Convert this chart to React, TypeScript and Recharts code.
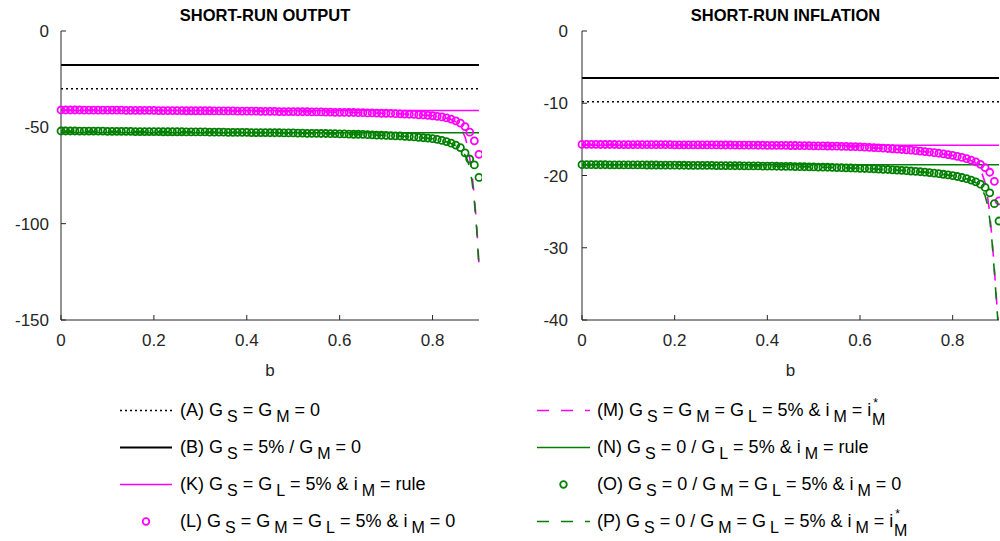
import { LineChart, Line, XAxis, YAxis } from "recharts"

// Two MATLAB-style panels (output / inflation vs b) + shared legend underneath.

const FONT = '"Liberation Sans", Arial, Helvetica, sans-serif'
const AXIS = "#262626"
const MAGENTA = "#ff00ff"
const GREEN = "#008000"

// ── Data ──────────────────────────────────────────────────────────────────────

const B_GRID = [
  0, 0.01, 0.02, 0.03, 0.04, 0.05, 0.06, 0.07, 0.08, 0.09,
  0.1, 0.11, 0.12, 0.13, 0.14, 0.15, 0.16, 0.17, 0.18, 0.19,
  0.2, 0.21, 0.22, 0.23, 0.24, 0.25, 0.26, 0.27, 0.28, 0.29,
  0.3, 0.31, 0.32, 0.33, 0.34, 0.35, 0.36, 0.37, 0.38, 0.39,
  0.4, 0.41, 0.42, 0.43, 0.44, 0.45, 0.46, 0.47, 0.48, 0.49,
  0.5, 0.51, 0.52, 0.53, 0.54, 0.55, 0.56, 0.57, 0.58, 0.59,
  0.6, 0.61, 0.62, 0.63, 0.64, 0.65, 0.66, 0.67, 0.68, 0.69,
  0.7, 0.71, 0.72, 0.73, 0.74, 0.75, 0.76, 0.77, 0.78, 0.79,
  0.8, 0.81, 0.82, 0.83, 0.84, 0.85, 0.86, 0.87, 0.88, 0.89,
  0.9,
]

// b values for the dashed (i_M = i*_M) curves, denser near the kink
const B_TAIL = [0, 0.1, 0.2, 0.3, 0.4, 0.5, 0.6, 0.7, 0.75, 0.8, 0.82, 0.84, 0.85, 0.86, 0.87, 0.875, 0.88, 0.885, 0.89, 0.895, 0.9]

// short-run output
const OUT_A = -30
const OUT_B = -17.6
const OUT_K = -41.2
const OUT_N = -52.8

const OUT_L = [
  -41.0, -41.0, -41.0, -41.0, -41.0, -41.1, -41.1, -41.1, -41.1, -41.1,
  -41.1, -41.1, -41.1, -41.1, -41.2, -41.2, -41.2, -41.2, -41.2, -41.2,
  -41.2, -41.3, -41.3, -41.3, -41.3, -41.3, -41.3, -41.4, -41.4, -41.4,
  -41.4, -41.4, -41.4, -41.5, -41.5, -41.5, -41.5, -41.5, -41.6, -41.6,
  -41.6, -41.6, -41.6, -41.7, -41.7, -41.7, -41.7, -41.8, -41.8, -41.8,
  -41.8, -41.9, -41.9, -41.9, -42.0, -42.0, -42.0, -42.1, -42.1, -42.2,
  -42.2, -42.2, -42.3, -42.3, -42.4, -42.4, -42.5, -42.5, -42.6, -42.7,
  -42.7, -42.8, -42.9, -43.0, -43.1, -43.2, -43.3, -43.5, -43.6, -43.8,
  -44.0, -44.3, -44.6, -45.1, -45.7, -46.6, -47.8, -49.6, -52.5, -57.0,
  -64.0,
]

const OUT_O = [
  -51.9, -51.9, -51.9, -51.9, -52.0, -52.0, -52.0, -52.0, -52.0, -52.0,
  -52.1, -52.1, -52.1, -52.1, -52.1, -52.1, -52.2, -52.2, -52.2, -52.2,
  -52.2, -52.2, -52.3, -52.3, -52.3, -52.3, -52.3, -52.4, -52.4, -52.4,
  -52.4, -52.4, -52.5, -52.5, -52.5, -52.5, -52.6, -52.6, -52.6, -52.6,
  -52.6, -52.7, -52.7, -52.7, -52.7, -52.8, -52.8, -52.8, -52.9, -52.9,
  -52.9, -53.0, -53.0, -53.1, -53.1, -53.1, -53.2, -53.2, -53.3, -53.3,
  -53.4, -53.4, -53.5, -53.6, -53.6, -53.7, -53.8, -53.9, -54.0, -54.1,
  -54.2, -54.3, -54.4, -54.5, -54.7, -54.8, -55.0, -55.2, -55.4, -55.6,
  -55.9, -56.3, -56.8, -57.4, -58.2, -59.2, -60.5, -63.3, -66.5, -69.5,
  -76.0,
]

const OUT_M = [-41.0, -41.1, -41.2, -41.4, -41.6, -41.8, -42.2, -42.7, -43.2, -44.0, -44.6, -45.9, -47.2, -49.8, -55.0, -59.5, -66.0, -74.5, -86.0, -101.0, -121.0]
const OUT_P = [-51.9, -52.1, -52.2, -52.4, -52.6, -52.9, -53.4, -54.2, -54.8, -55.9, -56.8, -58.4, -59.6, -61.5, -64.5, -67.0, -71.0, -78.0, -88.5, -103.0, -123.0]

// short-run inflation
const INF_A = -9.8
const INF_B = -6.5
const INF_K = -15.8
const INF_N = -18.5

const INF_L = [
  -15.70, -15.70, -15.70, -15.70, -15.71, -15.71, -15.71, -15.71, -15.72, -15.72,
  -15.72, -15.72, -15.73, -15.73, -15.73, -15.73, -15.74, -15.74, -15.74, -15.74,
  -15.75, -15.75, -15.75, -15.75, -15.76, -15.76, -15.76, -15.77, -15.77, -15.77,
  -15.78, -15.78, -15.78, -15.79, -15.79, -15.80, -15.80, -15.80, -15.81, -15.81,
  -15.82, -15.82, -15.83, -15.83, -15.84, -15.85, -15.85, -15.86, -15.87, -15.88,
  -15.89, -15.90, -15.91, -15.92, -15.93, -15.94, -15.96, -15.97, -15.99, -16.00,
  -16.05, -16.08, -16.11, -16.14, -16.18, -16.22, -16.26, -16.30, -16.35, -16.40,
  -16.45, -16.50, -16.56, -16.62, -16.69, -16.76, -16.84, -16.92, -17.01, -17.11,
  -17.22, -17.35, -17.50, -17.67, -17.88, -18.12, -18.45, -18.90, -19.55, -20.80,
  -23.5,
]

const INF_O = [
  -18.50, -18.50, -18.50, -18.51, -18.51, -18.51, -18.52, -18.52, -18.52, -18.53,
  -18.53, -18.53, -18.54, -18.54, -18.55, -18.55, -18.55, -18.56, -18.56, -18.57,
  -18.57, -18.58, -18.58, -18.59, -18.59, -18.60, -18.60, -18.61, -18.61, -18.62,
  -18.63, -18.63, -18.64, -18.65, -18.65, -18.66, -18.67, -18.68, -18.68, -18.69,
  -18.70, -18.71, -18.72, -18.73, -18.74, -18.75, -18.76, -18.78, -18.79, -18.80,
  -18.82, -18.83, -18.85, -18.86, -18.88, -18.90, -18.92, -18.94, -18.96, -18.98,
  -19.00, -19.03, -19.05, -19.08, -19.11, -19.14, -19.17, -19.21, -19.25, -19.29,
  -19.33, -19.38, -19.43, -19.48, -19.54, -19.60, -19.67, -19.75, -19.83, -19.92,
  -20.02, -20.14, -20.28, -20.44, -20.64, -20.88, -21.20, -21.65, -22.40, -23.90,
  -26.3,
]

const INF_M = [-15.70, -15.72, -15.75, -15.78, -15.82, -15.89, -16.05, -16.45, -16.76, -17.22, -17.50, -17.95, -18.3, -19.1, -21.0, -22.8, -25.2, -28.8, -33.0, -37.5, -42.0]
const INF_P = [-18.50, -18.53, -18.57, -18.63, -18.70, -18.82, -19.00, -19.33, -19.60, -20.02, -20.28, -20.7, -21.0, -21.5, -22.8, -24.0, -26.0, -29.2, -33.3, -37.8, -42.3]

const X_TICKS = [0, 0.2, 0.4, 0.6, 0.8]
const OUT_TICKS = [-150, -100, -50, 0]
const INF_TICKS = [-40, -30, -20, -10, 0]

// ── Helpers ───────────────────────────────────────────────────────────────────

type Pt = { b: number; v: number }
const pts = (xs: number[], ys: number[]): Pt[] => xs.map((b, i) => ({ b, v: ys[i] }))
const flat = (v: number): Pt[] => [{ b: 0, v }, { b: 0.9, v }]

const tickFont = { fill: AXIS, fontSize: 17, fontFamily: FONT }
const circleDot = (color: string) => ({ r: 3.5, stroke: color, strokeWidth: 1.8, fill: "none" })

interface PanelProps {
  left: number
  width: number
  title: string
  domain: [number, number]
  yTicks: number[]
  yTickMargin: number
  a: number
  bLine: number
  k: number
  n: number
  l: number[]
  o: number[]
  m: number[]
  p: number[]
}

function Panel({ left, width, title, domain, yTicks, yTickMargin, a, bLine, k, n, l, o, m, p }: PanelProps) {
  const plotW = width - 3 - 61
  return (
    <div style={{ position: "absolute", left, top: 0, width, height: 380 }}>
      <div
        style={{
          position: "absolute", left: 56, width: plotW, top: 6, textAlign: "center",
          fontFamily: FONT, fontWeight: "bold", fontSize: 16.5, lineHeight: "19px", color: "#000",
        }}
      >
        {title}
      </div>
      <LineChart width={width} height={380} margin={{ top: 31, right: 3, bottom: 0, left: 0 }}>
        <XAxis
          type="number"
          dataKey="b"
          domain={[0, 0.9]}
          ticks={X_TICKS}
          height={60}
          tickSize={-5}
          tickMargin={19}
          tick={tickFont}
          axisLine={{ stroke: AXIS }}
          tickLine={{ stroke: AXIS }}
          label={{ value: "b", position: "insideBottom", offset: 4, fill: AXIS, fontSize: 17, fontFamily: FONT }}
        />
        <XAxis
          xAxisId="top"
          orientation="top"
          type="number"
          dataKey="b"
          domain={[0, 0.9]}
          ticks={X_TICKS}
          height={0}
          tickSize={-5}
          tick={false}
          axisLine={{ stroke: AXIS }}
          tickLine={{ stroke: AXIS }}
        />
        <YAxis
          type="number"
          domain={domain}
          ticks={yTicks}
          width={61}
          tickSize={-5}
          tickMargin={yTickMargin}
          tick={tickFont}
          axisLine={{ stroke: AXIS }}
          tickLine={{ stroke: AXIS }}
        />
        <YAxis
          yAxisId="right"
          orientation="right"
          type="number"
          domain={domain}
          ticks={yTicks}
          allowDataOverflow
          width={0}
          tickSize={-5}
          tick={false}
          axisLine={{ stroke: AXIS }}
          tickLine={{ stroke: AXIS }}
        />

        <Line data={flat(a)} dataKey="v" stroke="#000" strokeWidth={1.5} strokeDasharray="2 3" dot={false} activeDot={false} isAnimationActive={false} />
        <Line data={flat(bLine)} dataKey="v" stroke="#000" strokeWidth={2} dot={false} activeDot={false} isAnimationActive={false} />
        <Line data={flat(k)} dataKey="v" stroke={MAGENTA} strokeWidth={1.5} dot={false} activeDot={false} isAnimationActive={false} />
        <Line data={pts(B_GRID, l)} dataKey="v" stroke="none" dot={circleDot(MAGENTA)} activeDot={false} isAnimationActive={false} />
        <Line yAxisId="right" data={pts(B_TAIL, m)} dataKey="v" stroke={MAGENTA} strokeWidth={1.6} strokeDasharray="12 12" dot={false} activeDot={false} isAnimationActive={false} />
        <Line data={flat(n)} dataKey="v" stroke={GREEN} strokeWidth={1.5} dot={false} activeDot={false} isAnimationActive={false} />
        <Line data={pts(B_GRID, o)} dataKey="v" stroke="none" dot={circleDot(GREEN)} activeDot={false} isAnimationActive={false} />
        <Line yAxisId="right" data={pts(B_TAIL, p)} dataKey="v" stroke={GREEN} strokeWidth={1.6} strokeDasharray="12 12" dot={false} activeDot={false} isAnimationActive={false} />
      </LineChart>
    </div>
  )
}

// ── Legend ────────────────────────────────────────────────────────────────────

type Part = [string, ("sub" | "sup" | "subx")?]
type Mark = "dotted" | "solid" | "dashed" | "circle"

const LEGEND_LEFT: { mark: Mark; color: string; parts: Part[] }[] = [
  { mark: "dotted", color: "#000", parts: [["(A) G"], ["S", "sub"], [" = G"], ["M", "sub"], [" = 0"]] },
  { mark: "solid", color: "#000", parts: [["(B) G"], ["S", "sub"], [" = 5% / G"], ["M", "sub"], [" = 0"]] },
  { mark: "solid", color: MAGENTA, parts: [["(K) G"], ["S", "sub"], [" = G"], ["L", "sub"], [" = 5% & i"], ["M", "sub"], [" = rule"]] },
  { mark: "circle", color: MAGENTA, parts: [["(L) G"], ["S", "sub"], [" = G"], ["M", "sub"], [" = G"], ["L", "sub"], [" = 5% & i"], ["M", "sub"], [" = 0"]] },
]

const LEGEND_RIGHT: { mark: Mark; color: string; parts: Part[] }[] = [
  { mark: "dashed", color: MAGENTA, parts: [["(M) G"], ["S", "sub"], [" = G"], ["M", "sub"], [" = G"], ["L", "sub"], [" = 5% & i"], ["M", "sub"], [" = i"], ["*", "sup"], ["M", "subx"]] },
  { mark: "solid", color: GREEN, parts: [["(N) G"], ["S", "sub"], [" = 0 / G"], ["L", "sub"], [" = 5% & i"], ["M", "sub"], [" = rule"]] },
  { mark: "circle", color: GREEN, parts: [["(O) G"], ["S", "sub"], [" = 0 / G"], ["M", "sub"], [" = G"], ["L", "sub"], [" = 5% & i"], ["M", "sub"], [" = 0"]] },
  { mark: "dashed", color: GREEN, parts: [["(P) G"], ["S", "sub"], [" = 0 / G"], ["M", "sub"], [" = G"], ["L", "sub"], [" = 5% & i"], ["M", "sub"], [" = i"], ["*", "sup"], ["M", "subx"]] },
]

const SHIFT = { sub: 6, sup: -9, subx: 9 }

function LegendText({ x, y, parts }: { x: number; y: number; parts: Part[] }) {
  let cur = 0
  return (
    <text x={x} y={y} fontFamily={FONT} fontSize={18} fill="#000" style={{ whiteSpace: "pre" }}>
      {parts.map(([t, kind], i) => {
        const target = kind ? SHIFT[kind] : 0
        const dy = target - cur
        cur = target
        const size = kind === "sup" ? 12 : kind ? 16 : 18
        const dx = kind === "sub" ? 4 : kind === "subx" ? -6 : kind === "sup" ? 2 : 0
        return (
          <tspan key={i} dx={dx} dy={dy} fontSize={size}>
            {t}
          </tspan>
        )
      })}
    </text>
  )
}

function LegendMark({ mark, color, x1, x2, y }: { mark: Mark; color: string; x1: number; x2: number; y: number }) {
  if (mark === "circle") {
    return <circle cx={(x1 + x2) / 2} cy={y} r={3.3} fill="none" stroke={color} strokeWidth={1.8} />
  }
  const dash = mark === "dotted" ? "2 3" : mark === "dashed" ? "12 12" : undefined
  return <line x1={x1} x2={x2} y1={y} y2={y} stroke={color} strokeWidth={mark === "solid" && color === "#000" ? 2 : 1.5} strokeDasharray={dash} />
}

function ChartLegend() {
  const rows = [416, 453, 490, 527]
  return (
    <svg width={1000} height={541} style={{ position: "absolute", left: 0, top: 0, pointerEvents: "none" }}>
      {LEGEND_LEFT.map((it, i) => (
        <g key={`l${i}`}>
          <LegendMark mark={it.mark} color={it.color} x1={120} x2={172} y={rows[i] - 5.5} />
          <LegendText x={180} y={rows[i]} parts={it.parts} />
        </g>
      ))}
      {LEGEND_RIGHT.map((it, i) => (
        <g key={`r${i}`}>
          <LegendMark mark={it.mark} color={it.color} x1={537} x2={590} y={rows[i] - 5.5} />
          <LegendText x={597} y={rows[i]} parts={it.parts} />
        </g>
      ))}
    </svg>
  )
}

export default function App() {
  return (
    <div style={{ position: "absolute", left: 0, top: 0, width: 1000, height: 541, background: "#fff", overflow: "hidden" }}>
      <Panel
        left={0}
        width={482}
        title="SHORT-RUN OUTPUT"
        domain={[-150, 0]}
        yTicks={OUT_TICKS}
        yTickMargin={17}
        a={OUT_A}
        bLine={OUT_B}
        k={OUT_K}
        n={OUT_N}
        l={OUT_L}
        o={OUT_O}
        m={OUT_M}
        p={OUT_P}
      />
      <Panel
        left={521}
        width={481}
        title="SHORT-RUN INFLATION"
        domain={[-40, 0]}
        yTicks={INF_TICKS}
        yTickMargin={19}
        a={INF_A}
        bLine={INF_B}
        k={INF_K}
        n={INF_N}
        l={INF_L}
        o={INF_O}
        m={INF_M}
        p={INF_P}
      />
      <ChartLegend />
    </div>
  )
}
